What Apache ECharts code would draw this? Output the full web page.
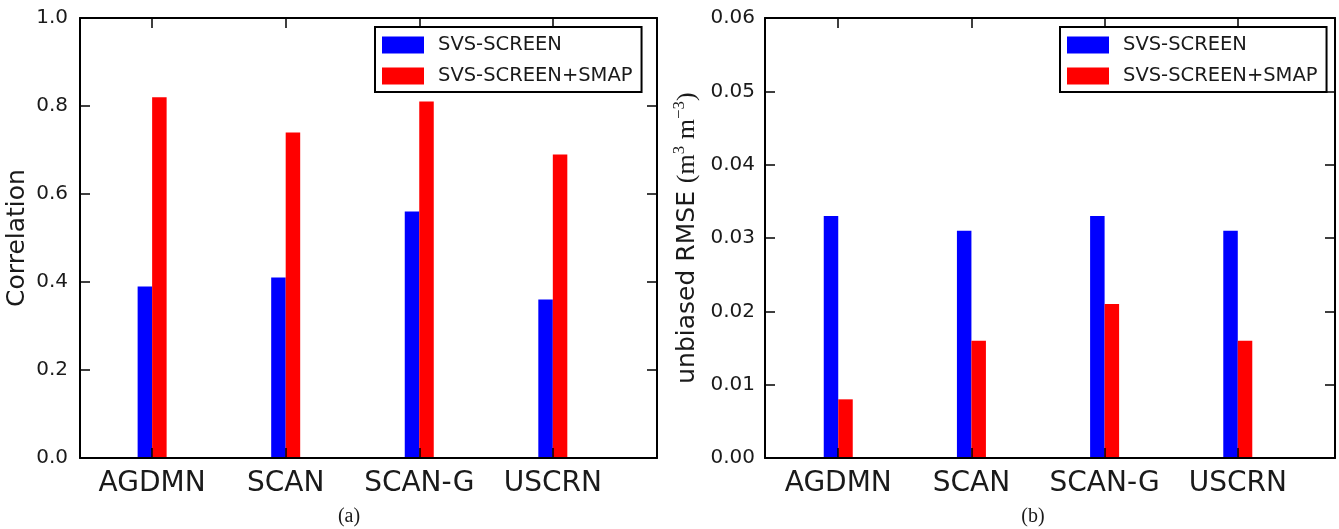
<!DOCTYPE html>
<html>
<head>
<meta charset="utf-8">
<script src="https://cdn.jsdelivr.net/npm/echarts@6/dist/echarts.min.js"></script>
<style>
html,body{margin:0;padding:0;background:#fff;}
#c{width:1339px;height:529px;}
</style>
</head>
<body>
<div id="c"></div>
<script>
const categories = ['AGDMN', 'SCAN', 'SCAN-G', 'USCRN'];
const seriesNames = ['SVS-SCREEN', 'SVS-SCREEN+SMAP'];
const corrScreen = [0.39, 0.41, 0.56, 0.36];
const corrSmap = [0.82, 0.74, 0.81, 0.69];
const rmseScreen = [0.033, 0.031, 0.033, 0.031];
const rmseSmap = [0.008, 0.016, 0.021, 0.016];
const corrTicks = [0, 0.2, 0.4, 0.6, 0.8, 1.0];
const rmseTicks = [0, 0.01, 0.02, 0.03, 0.04, 0.05, 0.06];

const FONT = 'DejaVu Sans';
const TXT = '#1a1a1a';
const catIdx = categories.map((_, i) => i);
const pts = arr => arr.map((v, i) => [i, v]);

function xAxes(gridIndex, min, max) {
  const common = {
    type: 'value', gridIndex, min, max, z: 5,
    splitLine: {show: false},
    axisLine: {show: true, onZero: false, lineStyle: {color: '#000', width: 2}},
    axisTick: {show: true, inside: true, length: 10, customValues: catIdx, lineStyle: {color: '#000', width: 1.5}}
  };
  return [
    Object.assign({}, common, {
      position: 'bottom',
      axisLabel: {show: true, customValues: catIdx, margin: 12, fontSize: 28, fontFamily: FONT, color: TXT,
        formatter: v => categories[Math.round(v)]}
    }),
    Object.assign({}, common, {position: 'top', axisLabel: {show: false}})
  ];
}
function yAxes(gridIndex, ticks, digits, name, nameGap, nameStyle, margin) {
  const min = ticks[0], max = ticks[ticks.length - 1];
  const common = {
    type: 'value', gridIndex, min, max, z: 5,
    splitLine: {show: false},
    axisLine: {show: true, onZero: false, lineStyle: {color: '#000', width: 2}},
    axisTick: {show: true, inside: true, length: 10, customValues: ticks, lineStyle: {color: '#000', width: 1.5}}
  };
  return [
    Object.assign({}, common, {
      position: 'left',
      name, nameLocation: 'middle', nameGap, nameTextStyle: nameStyle,
      axisLabel: {show: true, customValues: ticks, margin, fontSize: 20, fontFamily: FONT, color: TXT,
        formatter: v => v.toFixed(digits)}
    }),
    Object.assign({}, common, {position: 'right', axisLabel: {show: false}})
  ];
}
function legend(left) {
  return {
    data: seriesNames, orient: 'vertical', left, top: 27,
    itemWidth: 42, itemHeight: 17, itemGap: 11,
    padding: [8, 9, 6, 7],
    borderColor: '#000', borderWidth: 2, borderRadius: 0,
    backgroundColor: '#fff',
    icon: 'rect',
    textStyle: {fontSize: 19.5, fontFamily: FONT, color: TXT, lineHeight: 17, padding: [0, 0, 0, 9]},
    selectedMode: false, z: 10
  };
}
function bars(name, data, color, xi, yi) {
  return {
    type: 'bar', name, data: pts(data), xAxisIndex: xi, yAxisIndex: yi,
    barWidth: 14.5, barGap: '0%', itemStyle: {color}, z: 2
  };
}

const chart = echarts.init(document.getElementById('c'), null, {renderer: 'canvas'});
chart.setOption({
  animation: false,
  backgroundColor: '#fff',
  grid: [
    {left: 80, right: 682, top: 18, bottom: 71},
    {left: 765, right: 4, top: 18, bottom: 71}
  ],
  xAxis: [...xAxes(0, -0.54, 3.78), ...xAxes(1, -0.55, 3.73)],
  yAxis: [
    ...yAxes(0, corrTicks, 1, 'Correlation', 50, {fontSize: 25, fontFamily: FONT, color: TXT}, 12),
    ...yAxes(1, rmseTicks, 2, '{t|unbiased RMSE }{m|(m}{s|3}{m| m}{s|−3}{m|)}', 62, {
      rich: {
        t: {fontSize: 25, fontFamily: FONT, color: TXT, lineHeight: 32},
        m: {fontSize: 26, fontFamily: 'Liberation Serif', color: TXT, lineHeight: 32},
        s: {fontSize: 17, fontFamily: 'Liberation Serif', color: TXT, lineHeight: 32, verticalAlign: 'top'}
      }
    }, 10)
  ],
  legend: [legend(375), legend(1060)],
  series: [
    bars(seriesNames[0], corrScreen, '#0000ff', 0, 0),
    bars(seriesNames[1], corrSmap, '#ff0000', 0, 0),
    bars(seriesNames[0], rmseScreen, '#0000ff', 2, 2),
    bars(seriesNames[1], rmseSmap, '#ff0000', 2, 2)
  ],
  graphic: [
    {type: 'text', x: 349, y: 507, style: {text: '(a)', font: '20px "Liberation Serif"', fill: TXT, textAlign: 'center'}},
    {type: 'text', x: 1033, y: 507, style: {text: '(b)', font: '20px "Liberation Serif"', fill: TXT, textAlign: 'center'}}
  ]
});
</script>
</body>
</html>
